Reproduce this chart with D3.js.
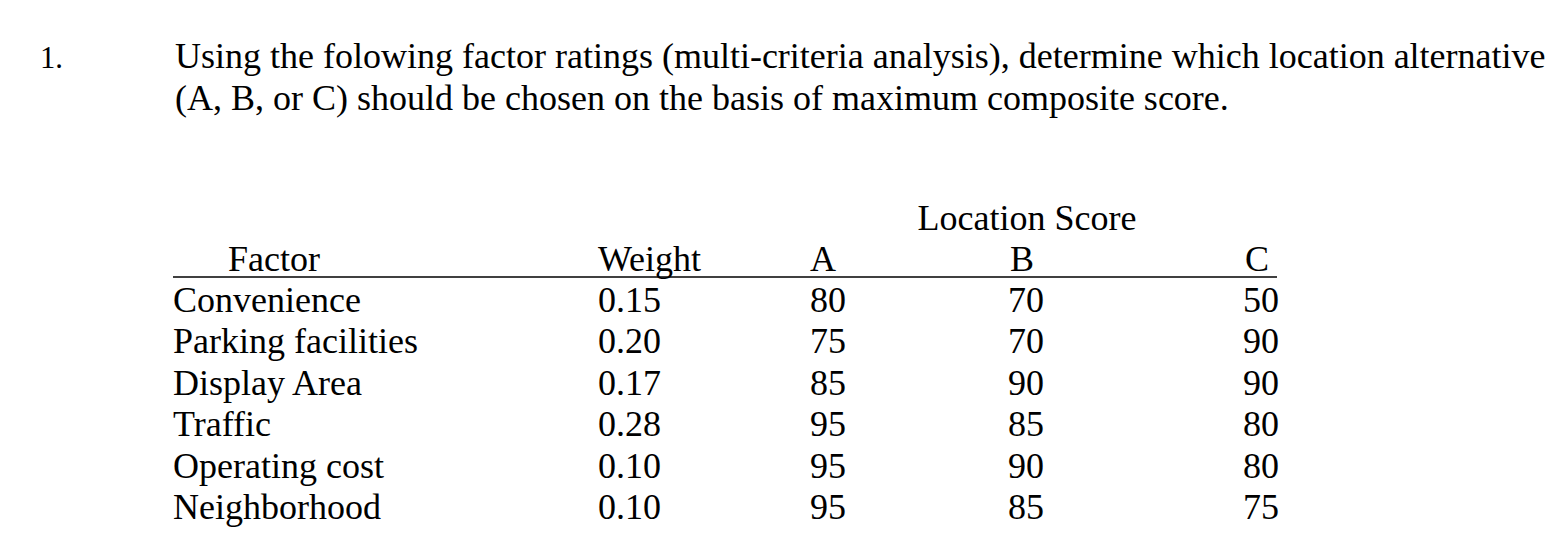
<!DOCTYPE html>
<html><head><meta charset="utf-8">
<script src="https://cdn.jsdelivr.net/npm/d3@7"></script>
<style>body{margin:0;background:#fff}text{font-family:"Liberation Serif","DejaVu Serif",serif;fill:#000}</style>
</head><body>
<script>
const factors = ["Convenience","Parking facilities","Display Area","Traffic","Operating cost","Neighborhood"];
const weights = ["0.15","0.20","0.17","0.28","0.10","0.10"];
const scoreA = [80,75,85,95,95,95];
const scoreB = [70,70,90,85,90,85];
const scoreC = [50,90,90,80,80,75];
const headers = ["Factor","Weight","A","B","C"];

let svg = d3.select("body").append("svg").attr("width",1564).attr("height",558);
let fs = 36;

svg.append("text").attr("x",40).attr("y",68).attr("font-size",fs*0.85).text("1.");
svg.append("text").attr("x",175).attr("y",68).attr("font-size",fs)
  .text("Using the folowing factor ratings (multi-criteria analysis), determine which location alternative");
svg.append("text").attr("x",175).attr("y",110).attr("font-size",fs)
  .text("(A, B, or C) should be chosen on the basis of maximum composite score.");

svg.append("text").attr("x",1027).attr("y",230).attr("font-size",fs).attr("text-anchor","middle").text("Location Score");

// column positions (left edges)
let colX = d3.scaleOrdinal().domain(headers).range([173,598,810,1008,1243]);
let headX = d3.scaleOrdinal().domain(headers).range([228,598,810,1010,1245]);
let y = d3.scalePoint().domain(factors).range([312,519]);

headers.forEach(h => {
  svg.append("text").attr("x",headX(h)).attr("y",271).attr("font-size",fs).text(h);
});
svg.append("line").attr("x1",173).attr("x2",1277).attr("y1",277).attr("y2",277)
  .attr("stroke","#000").attr("stroke-width",1.5);

let cols = [factors, weights, scoreA, scoreB, scoreC];
cols.forEach((col,ci) => {
  svg.selectAll(null).data(col).enter().append("text")
    .attr("x",colX(headers[ci])).attr("y",(d,i)=>y(factors[i]))
    .attr("font-size",fs).text(d=>d);
});
</script>
</body></html>
